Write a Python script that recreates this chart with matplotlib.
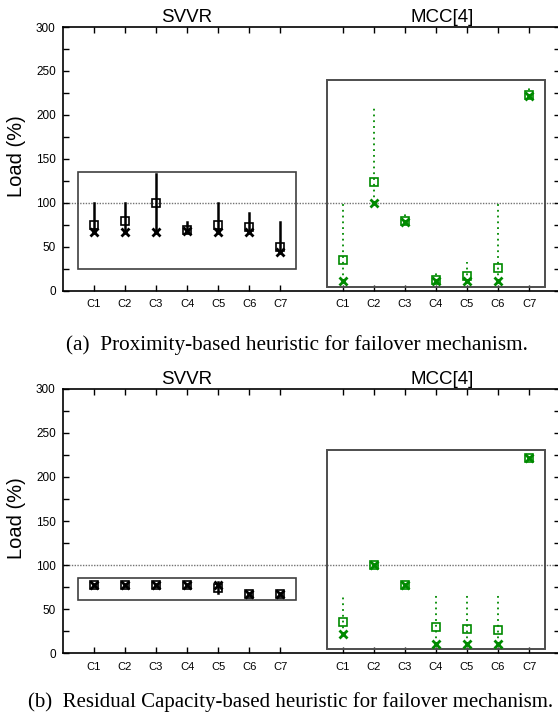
import numpy as np
import matplotlib.pyplot as plt
from matplotlib.patches import Rectangle

plt.rcParams['font.family'] = ['Liberation Sans', 'DejaVu Sans']

clusters = ['C1', 'C2', 'C3', 'C4', 'C5', 'C6', 'C7']

# (a) proximity-based heuristic
svvr_a_avg = [75, 80, 100, 69, 75, 73, 50]
svvr_a_cross = [67, 67, 67, 68, 67, 67, 44]
svvr_a_lo = [67, 67, 67, 68, 67, 67, 44]
svvr_a_hi = [100, 100, 133, 78, 100, 89, 78]
mcc_a_avg = [35, 124, 80, 12, 17, 26, 223]
mcc_a_cross = [11, 100, 78, 11, 11, 11, 222]
mcc_a_lo = [11, 100, 78, 11, 11, 11, 222]
mcc_a_hi = [100, 209, 88, 21, 33, 100, 233]

# (b) residual capacity-based heuristic
svvr_b_avg = [78, 78, 78, 78, 74, 67, 67]
svvr_b_cross = [78, 78, 78, 78, 78, 67, 67]
svvr_b_lo = [78, 78, 78, 78, 68, 67, 67]
svvr_b_hi = [78, 78, 78, 78, 81, 67, 67]
mcc_b_avg = [35, 100, 78, 30, 28, 26, 222]
mcc_b_cross = [22, 100, 78, 11, 11, 11, 222]
mcc_b_lo = [22, 100, 78, 11, 11, 11, 222]
mcc_b_hi = [67, 100, 78, 67, 67, 67, 222]

green = '#008a00'
x_left = np.arange(1, 8)
x_right = np.arange(9, 16)


def draw_group(ax, xs, avg, cross, lo, hi, color, ls):
    for x, l, h in zip(xs, lo, hi):
        if h > l:
            if ls == 'solid':
                ax.plot([x, x], [l, h], color=color, lw=1.8, zorder=3)
            else:
                ax.plot([x, x], [l, h], color=color, lw=1.3,
                        linestyle=(0, (1, 2.2)), zorder=3)
    ax.plot(xs, avg, linestyle='none', marker='s', markersize=6,
            fillstyle='none', markeredgewidth=1.2, color=color, zorder=4)
    ax.plot(xs, cross, linestyle='none', marker='x', markersize=6,
            markeredgewidth=2, color=color, zorder=5)


def panel(ax, svvr, mcc, box_l, box_r):
    ax.set_xlim(0, 16)
    ax.set_ylim(0, 300)
    ax.axhline(100, color='0.45', lw=1.0, linestyle=(0, (1, 1)), zorder=1)
    ax.add_patch(Rectangle((0.5, box_l[0]), 7, box_l[1] - box_l[0],
                           fill=False, edgecolor='0.25', lw=1.2, zorder=2))
    ax.add_patch(Rectangle((8.5, box_r[0]), 7, box_r[1] - box_r[0],
                           fill=False, edgecolor='0.3', lw=1.4, zorder=2))
    draw_group(ax, x_left, *svvr, color='black', ls='solid')
    draw_group(ax, x_right, *mcc, color=green, ls='dotted')

    ax.set_xticks(np.concatenate([x_left, x_right]))
    ax.set_xticklabels(clusters + clusters, fontsize=8)
    ax.set_yticks(np.arange(0, 301, 50))
    ax.set_yticks(np.arange(0, 301, 25), minor=True)
    ax.tick_params(axis='both', which='both', direction='in', top=True,
                   right=True, length=4, width=1, labelsize=8.5, pad=5)
    ax.tick_params(axis='x', labelsize=8, pad=6)
    ax.set_ylabel('Load (%)', fontsize=14.5, va='center')
    ax.yaxis.set_label_coords(-0.092, 0.51)
    for s in ax.spines.values():
        s.set_linewidth(1.2)

    ax.text(4, 311, 'SVVR', ha='center', va='center', fontsize=13.5,
            clip_on=False)
    ax.text(12.2, 311, 'MCC[4]', ha='center', va='center', fontsize=13.5,
            clip_on=False)


fig = plt.figure(figsize=(5.58, 7.22), dpi=100)
ax1 = fig.add_axes([0.1124, 0.5970, 0.8916, 0.3656])
ax2 = fig.add_axes([0.1124, 0.0951, 0.8916, 0.3665])

panel(ax1, (svvr_a_avg, svvr_a_cross, svvr_a_lo, svvr_a_hi),
      (mcc_a_avg, mcc_a_cross, mcc_a_lo, mcc_a_hi),
      (25, 135), (5, 240))
panel(ax2, (svvr_b_avg, svvr_b_cross, svvr_b_lo, svvr_b_hi),
      (mcc_b_avg, mcc_b_cross, mcc_b_lo, mcc_b_hi),
      (60, 85), (5, 230))

fig.text(0.532, 0.522, '(a)  Proximity-based heuristic for failover mechanism.',
         ha='center', va='center', fontsize=15.3, family='Liberation Serif')
fig.text(0.52, 0.027,
         '(b)  Residual Capacity-based heuristic for failover mechanism.',
         ha='center', va='center', fontsize=15, family='Liberation Serif')

fig.savefig('out.png', dpi=100)
